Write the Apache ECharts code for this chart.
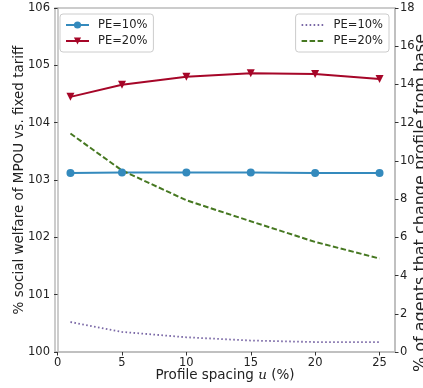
<!DOCTYPE html>
<html>
<head>
<meta charset="utf-8">
<script src="https://cdn.jsdelivr.net/npm/echarts@6/dist/echarts.min.js"></script>
<style>
  html, body { margin: 0; padding: 0; background: #fff; }
  #chart { width: 423px; height: 388px; }
</style>
</head>
<body>
<div id="chart"></div>
<script>
// Profile spacing u (%)
const spacing = [1, 5, 10, 15, 20, 25];
const xTicks = [0, 5, 10, 15, 20, 25];

// left axis: % social welfare of MPOU vs. fixed tariff
const welfarePE10 = [103.12, 103.13, 103.13, 103.13, 103.12, 103.12];
const welfarePE20 = [104.45, 104.66, 104.80, 104.86, 104.85, 104.76];

// right axis: % of agents that change profile from base
const agentsPE10 = [1.57, 1.05, 0.77, 0.60, 0.52, 0.52];
const agentsPE20 = [11.43, 9.50, 7.94, 6.84, 5.76, 4.89];

const labels = { w10: "PE=10%", w20: "PE=20%", a10: "PE=10%", a20: "PE=20%" };

const pair = (ys) => spacing.map((x, i) => [x, ys[i]]);

const font = "DejaVu Sans";
const tickText = { color: "#222", fontFamily: font, fontSize: 11.5 };
const spine = { show: true, lineStyle: { color: "#bcbcbc", width: 1.5 } };
const ticks = { show: true, inside: false, length: 3.5, lineStyle: { color: "#333", width: 1 } };

const chart = echarts.init(document.getElementById("chart"));

const legendBase = {
  orient: "vertical",
  padding: [5, 6, 5, 5],
  itemWidth: 23,
  itemHeight: 9,
  itemGap: 4,
  backgroundColor: "#fff",
  borderColor: "#cccccc",
  borderWidth: 1,
  borderRadius: 3,
  formatter: (name) => labels[name],
  textStyle: { fontFamily: font, fontSize: 11.5, color: "#222", padding: [0, 0, 0, 4] },
  selectedMode: false,
};

// no marker for the dotted / dashed lines
const noMarker = (name) => ({ name: name, itemStyle: { opacity: 0 } });

chart.setOption({
  animation: false,
  backgroundColor: "#fff",
  grid: {
    left: 55, right: 28, top: 8, bottom: 36,
    outerBoundsMode: "none",
    containLabel: false,
    show: true, borderColor: "#bcbcbc", borderWidth: 1.5,
  },
  legend: [
    Object.assign({}, legendBase, { left: 60, top: 14, data: ["w10", "w20"] }),
    Object.assign({}, legendBase, { right: 34, top: 14, data: [noMarker("a10"), noMarker("a20")] }),
  ],
  xAxis: {
    type: "value",
    min: -0.2,
    max: 26.2,
    axisLine: spine,
    axisTick: Object.assign({}, ticks, { customValues: xTicks }),
    axisLabel: Object.assign({}, tickText, { customValues: xTicks, margin: 5 }),
    splitLine: { show: false },
    name: "{a|Profile spacing }{b|u}{a| (%)}",
    nameLocation: "middle",
    nameGap: 16,
    nameMoveOverlap: false,
    nameTextStyle: {
      verticalAlign: "top",
      rich: {
        a: { fontFamily: font, fontSize: 13.5, color: "#222" },
        b: { fontFamily: "DejaVu Serif", fontStyle: "italic", fontSize: 13.5, color: "#222" },
      },
    },
  },
  yAxis: [
    {
      type: "value",
      min: 100,
      max: 106,
      interval: 1,
      axisLine: spine,
      axisTick: ticks,
      axisLabel: Object.assign({}, tickText, { margin: 5 }),
      splitLine: { show: false },
      name: "% social welfare of MPOU vs. fixed tariff",
      nameLocation: "middle",
      nameGap: 29,
      nameMoveOverlap: false,
      nameTextStyle: { fontFamily: font, fontSize: 13.5, color: "#222" },
    },
    {
      type: "value",
      min: 0,
      max: 18,
      interval: 2,
      position: "right",
      axisLine: spine,
      axisTick: ticks,
      axisLabel: Object.assign({}, tickText, { margin: 5 }),
      splitLine: { show: false },
    },
  ],
  graphic: [
    {
      type: "text",
      x: 413,
      y: 203,
      rotation: Math.PI / 2,
      style: {
        text: "% of agents that change profile from base",
        fontFamily: font,
        fontSize: 16,
        fill: "#222",
        align: "center",
        verticalAlign: "top",
      },
    },
  ],
  series: [
    {
      name: "w10", type: "line", yAxisIndex: 0, data: pair(welfarePE10),
      symbol: "circle", symbolSize: 8,
      lineStyle: { color: "#348ABD", width: 2 }, itemStyle: { color: "#348ABD" },
    },
    {
      name: "w20", type: "line", yAxisIndex: 0, data: pair(welfarePE20),
      symbol: "triangle", symbolRotate: 180, symbolSize: 8,
      lineStyle: { color: "#A60628", width: 2 }, itemStyle: { color: "#A60628" },
    },
    {
      name: "a10", type: "line", yAxisIndex: 1, data: pair(agentsPE10),
      symbol: "none",
      lineStyle: { color: "#7A68A6", width: 1.8, type: [1.6, 2.4] }, itemStyle: { color: "#7A68A6" },
    },
    {
      name: "a20", type: "line", yAxisIndex: 1, data: pair(agentsPE20),
      symbol: "none",
      lineStyle: { color: "#467821", width: 2, type: [5.5, 2.5] }, itemStyle: { color: "#467821" },
    },
  ],
});
</script>
</body>
</html>
